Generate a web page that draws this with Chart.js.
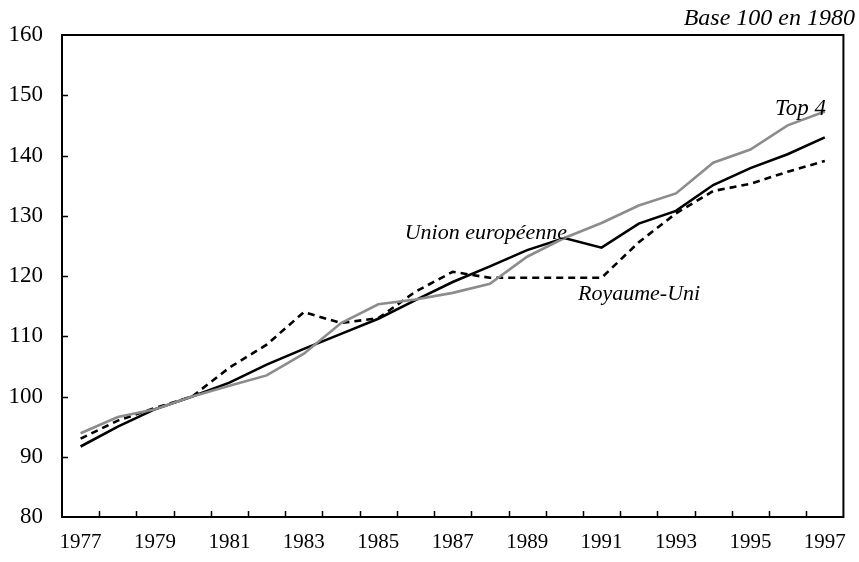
<!DOCTYPE html>
<html>
<head>
<meta charset="utf-8">
<script src="https://cdn.jsdelivr.net/npm/chart.js@4.4.0/dist/chart.umd.min.js"></script>
<style>
  html, body { margin: 0; padding: 0; background: #fff; }
  #wrap { width: 859px; height: 562px; }
</style>
</head>
<body>
<div id="wrap"><canvas id="chart" width="859" height="562"></canvas></div>
<script>
// Index base 100 en 1980
const years = ['1977', '1978', '1979', '1980', '1981', '1982', '1983', '1984', '1985', '1986', '1987',
  '1988', '1989', '1990', '1991', '1992', '1993', '1994', '1995', '1996', '1997'];

const unionEuropeenne = [91.7, 95.0, 97.9, 100, 102.3, 105.3, 107.9, 110.4, 112.9, 116.0, 119.0,
  121.6, 124.3, 126.3, 124.7, 128.7, 130.8, 135.1, 137.9, 140.2, 143.0];
const top4 = [93.9, 96.6, 97.9, 100, 101.8, 103.5, 107.1, 112.2, 115.3, 116.1, 117.2,
  118.7, 123.2, 126.3, 128.8, 131.7, 133.7, 138.8, 141.0, 145.0, 147.3];
const royaumeUni = [93.0, 96.0, 98.1, 100, 104.8, 108.6, 114.0, 112.2, 113.0, 117.4, 120.7,
  119.7, 119.7, 119.7, 119.7, 125.6, 130.4, 134.1, 135.3, 137.3, 139.1];

const yTicks = [80, 90, 100, 110, 120, 130, 140, 150, 160];

const serif = "'Liberation Serif', 'Times New Roman', serif";

// frame, inward tick marks and the italic captions
const framePlugin = {
  id: 'frame',
  afterDatasetsDraw(chart) {
    const { ctx, chartArea: a, scales } = chart;
    const x = scales.x, y = scales.y;
    ctx.save();
    ctx.strokeStyle = '#000';
    ctx.lineWidth = 2;
    ctx.strokeRect(a.left, a.top, a.right - a.left, a.bottom - a.top);

    ctx.lineWidth = 1.5;
    ctx.beginPath();
    yTicks.slice(1, -1).forEach((v) => {
      const py = Math.round(y.getPixelForValue(v)) + 0.5;
      ctx.moveTo(a.left, py);
      ctx.lineTo(a.left + 6, py);
    });
    for (let i = 0; i < years.length - 1; i++) {
      const px = Math.round((x.getPixelForValue(i) + x.getPixelForValue(i + 1)) / 2) + 0.5;
      ctx.moveTo(px, a.bottom);
      ctx.lineTo(px, a.bottom - 6);
    }
    ctx.stroke();

    ctx.fillStyle = '#000';
    ctx.textBaseline = 'alphabetic';
    ctx.textAlign = 'right';
    ctx.font = 'italic 24px ' + serif;
    ctx.fillText('Base 100 en 1980', 855, 25);
    ctx.font = 'italic 22px ' + serif;
    ctx.fillText('Union européenne', 567, 239);
    ctx.textAlign = 'left';
    ctx.fillText('Royaume-Uni', 578, 300);
    ctx.font = 'italic 23px ' + serif;
    ctx.fillText('Top 4', 775, 115);
    ctx.restore();
  }
};

new Chart(document.getElementById('chart'), {
  type: 'line',
  data: {
    labels: years,
    datasets: [
      {
        label: 'Top 4',
        data: top4,
        borderColor: '#8c8c8c',
        borderWidth: 2.6,
      },
      {
        label: 'Royaume-Uni',
        data: royaumeUni,
        borderColor: '#000',
        borderWidth: 2.6,
        borderDash: [7, 5],
      },
      {
        label: 'Union européenne',
        data: unionEuropeenne,
        borderColor: '#000',
        borderWidth: 2.6,
      },
    ],
  },
  options: {
    responsive: false,
    animation: false,
    layout: { padding: { top: 35, right: 8, bottom: 0, left: 0 } },
    elements: {
      point: { radius: 0 },
      line: { tension: 0, borderCapStyle: 'butt', borderJoinStyle: 'miter' },
    },
    plugins: {
      legend: { display: false },
      tooltip: { enabled: false },
    },
    scales: {
      x: {
        type: 'category',
        offset: true,
        grid: { display: false, drawTicks: false },
        border: { display: false },
        ticks: {
          autoSkip: false,
          maxRotation: 0,
          padding: 13,
          color: '#000',
          font: { family: serif, size: 21 },
          callback: (v, i) => (i % 2 === 0 ? years[i] : ''),
        },
        afterFit: (scale) => { scale.height = 45; },
      },
      y: {
        min: 80,
        max: 160,
        grid: { display: false, drawTicks: false },
        border: { display: false },
        afterBuildTicks: (scale) => { scale.ticks = yTicks.map((v) => ({ value: v })); },
        ticks: {
          padding: 19,
          color: '#000',
          font: { family: serif, size: 23 },
        },
        afterFit: (scale) => { scale.width = 62; },
      },
    },
  },
  plugins: [framePlugin],
});
</script>
</body>
</html>
